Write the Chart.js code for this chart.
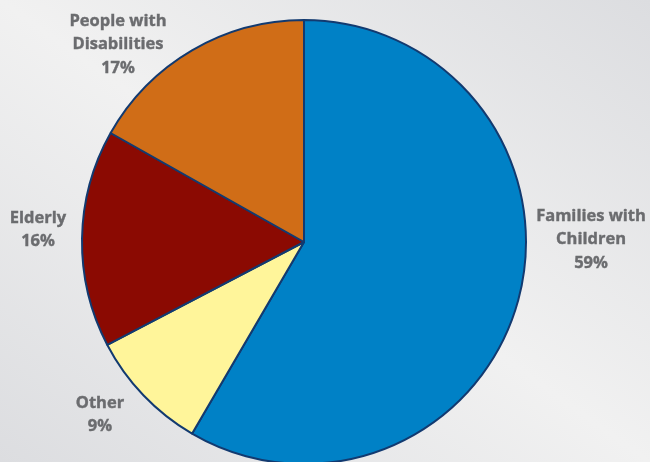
<!DOCTYPE html>
<html>
<head>
<meta charset="utf-8">
<script src="https://cdn.jsdelivr.net/npm/chart.js@4"></script>
<style>
  html, body { margin: 0; padding: 0; overflow: hidden; }
  body {
    width: 650px; height: 462px;
    background: linear-gradient(to bottom left, #dcdde0 0%, #f1f1f1 50%, #dcdde0 100%);
  }
  canvas { display: block; }
</style>
</head>
<body>
<canvas id="chart1" width="650" height="470"></canvas>
<script>
// households served, share of total
const categories = ['Families with Children', 'Other', 'Elderly', 'People with Disabilities'];
const shares = [59, 9, 16, 17];
const labelLines = [
  ['Families with', 'Children', '59%'],
  ['Other', '9%'],
  ['Elderly', '16%'],
  ['People with', 'Disabilities', '17%']
];
const sliceColors = ['#0081c6', '#fff59a', '#8b0a02', '#d06d17'];

// label anchors (first line), relative to the pie centre
const labelAnchors = [[287, -26], [-204, 161], [-266, -24], [-186, -221]];

const sliceLabels = {
  id: 'sliceLabels',
  afterDraw(chart) {
    const ctx = chart.ctx;
    const arc = chart.getDatasetMeta(0).data[0];
    ctx.save();
    ctx.font = 'bold 16.5px "Open Sans"';
    ctx.fillStyle = '#6b6c6f';
    ctx.strokeStyle = '#6b6c6f';
    ctx.lineWidth = 0.4;
    ctx.textAlign = 'center';
    ctx.textBaseline = 'middle';
    labelLines.forEach((lines, i) => {
      const x = arc.x + labelAnchors[i][0];
      const y = arc.y + labelAnchors[i][1];
      lines.forEach((line, j) => {
        ctx.fillText(line, x, y + j * 23.5);
        ctx.strokeText(line, x, y + j * 23.5);
      });
    });
    ctx.restore();
  }
};

const ctx = document.getElementById('chart1').getContext('2d');
const myChart = new Chart(ctx, {
  type: 'pie',
  data: {
    labels: categories,
    datasets: [{
      data: shares,
      backgroundColor: sliceColors,
      borderColor: '#123a70',
      borderWidth: 2,
      hoverOffset: 0
    }]
  },
  options: {
    responsive: false,
    animation: false,
    events: [],
    layout: { padding: { left: 81, right: 123, top: 19, bottom: 5 } },
    plugins: {
      legend: { display: false },
      tooltip: { enabled: false }
    }
  },
  plugins: [sliceLabels]
});
</script>
</body>
</html>
